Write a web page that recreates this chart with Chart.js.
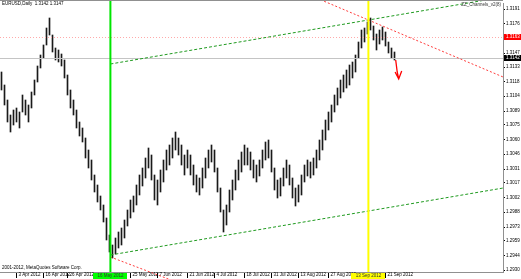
<!DOCTYPE html>
<html>
<head>
<meta charset="utf-8">
<script src="https://cdn.jsdelivr.net/npm/chart.js@4/dist/chart.umd.min.js"></script>
<style>
html, body { margin: 0; padding: 0; background: #fff; }
#wrap { width: 521px; height: 279px; }
</style>
</head>
<body>
<div id="wrap"><canvas id="priceChart" width="521" height="279"></canvas></div>
<script>
// daily bars, high / low
const highs = [
    1.3128, 1.3115, 1.3100, 1.3085, 1.3090, 1.3092, 1.3088, 1.3105, 1.3100, 1.3095,
    1.3108, 1.3120, 1.3134, 1.3145, 1.3155, 1.3172, 1.3182, 1.3165, 1.3152, 1.3150,
    1.3146, 1.3140, 1.3125, 1.3110, 1.3100, 1.3090, 1.3078, 1.3072, 1.3062, 1.3050,
    1.3040, 1.3025, 1.3015, 1.3004, 1.2995, 1.2982, 1.2965, 1.2955, 1.2962, 1.2968,
    1.2972, 1.2980, 1.2990, 1.3000, 1.3004, 1.3015, 1.3025, 1.3032, 1.3042, 1.3052,
    1.3045, 1.3025, 1.3020, 1.3030, 1.3040, 1.3050, 1.3055, 1.3062, 1.3068, 1.3062,
    1.3055, 1.3045, 1.3050, 1.3045, 1.3035, 1.3025, 1.3022, 1.3032, 1.3042, 1.3050,
    1.3055, 1.3050, 1.3032, 1.3012, 1.2990, 1.2995, 1.3010, 1.3020, 1.3030, 1.3040,
    1.3048, 1.3055, 1.3052, 1.3048, 1.3040, 1.3035, 1.3040, 1.3050, 1.3058, 1.3060,
    1.3050, 1.3032, 1.3020, 1.3022, 1.3032, 1.3040, 1.3035, 1.3022, 1.3012, 1.3015,
    1.3025, 1.3035, 1.3040, 1.3038, 1.3042, 1.3050, 1.3060, 1.3070, 1.3080, 1.3088,
    1.3095, 1.3105, 1.3112, 1.3120, 1.3125, 1.3130, 1.3135, 1.3138, 1.3145, 1.3158,
    1.3170, 1.3172, 1.3178, 1.3182, 1.3174, 1.3166, 1.3170, 1.3173, 1.3168, 1.3158,
    1.3152, 1.3148
];
const lows = [
    1.3110, 1.3095, 1.3078, 1.3068, 1.3075, 1.3078, 1.3072, 1.3088, 1.3085, 1.3078,
    1.3092, 1.3105, 1.3118, 1.3132, 1.3142, 1.3155, 1.3165, 1.3148, 1.3140, 1.3138,
    1.3134, 1.3122, 1.3105, 1.3092, 1.3085, 1.3072, 1.3064, 1.3058, 1.3042, 1.3032,
    1.3020, 1.3008, 1.2998, 1.2990, 1.2978, 1.2960, 1.2948, 1.2942, 1.2946, 1.2952,
    1.2955, 1.2962, 1.2974, 1.2982, 1.2988, 1.2995, 1.3005, 1.3014, 1.3022, 1.3032,
    1.3020, 1.3000, 1.2995, 1.3008, 1.3018, 1.3030, 1.3035, 1.3042, 1.3050, 1.3045,
    1.3035, 1.3025, 1.3032, 1.3025, 1.3015, 1.3008, 1.3005, 1.3012, 1.3022, 1.3032,
    1.3038, 1.3028, 1.3008, 1.2988, 1.2968, 1.2975, 1.2988, 1.3000, 1.3010, 1.3020,
    1.3028, 1.3035, 1.3035, 1.3030, 1.3022, 1.3018, 1.3024, 1.3032, 1.3040, 1.3042,
    1.3028, 1.3010, 1.3002, 1.3004, 1.3014, 1.3022, 1.3015, 1.3002, 1.2994, 1.2998,
    1.3005, 1.3018, 1.3024, 1.3022, 1.3025, 1.3032, 1.3040, 1.3050, 1.3060, 1.3070,
    1.3078, 1.3088, 1.3095, 1.3102, 1.3108, 1.3112, 1.3115, 1.3122, 1.3128, 1.3142,
    1.3152, 1.3158, 1.3166, 1.3170, 1.3160, 1.3150, 1.3156, 1.3160, 1.3154, 1.3147,
    1.3142, 1.3140
];

// bar places on screen (the right part is the empty shift area), 3 px per bar
const barSlots = 503 / 3;
const priceTicks = [
    1.2930, 1.2944, 1.2959, 1.2973, 1.2988, 1.3002, 1.3017, 1.3031, 1.3046, 1.3060,
    1.3075, 1.3089, 1.3104, 1.3118, 1.3133, 1.3147, 1.3162, 1.3176, 1.3191
];
const timeTickIdx = [5, 14, 22, 43, 52, 62, 71, 81, 90, 99, 109, 128];
const timeTickLabels = [
    '3 Apr 2012', '16 Apr 2012', '26 Apr 2012', '25 May 2012', '7 Jun 2012', '21 Jun 2012',
    '4 Jul 2012', '18 Jul 2012', '31 Jul 2012', '13 Aug 2012', '27 Aug 2012', '21 Sep 2012'
];

const bidPrice = 1.3142;
const askPrice = 1.3163;
const greenLine = { idx: 36.3, label: '16 May 2012' };
const yellowLine = { idx: 122.3, label: '13 Sep 2012' };
const channelTop = [[36.3, 1.3136], [122.3, 1.3180]];
const channelBottomStart = [36.3, 1.2945];
const redTrendTop = [[122.3, 1.3180], [167.2, 1.3123]];
const redTrendLow = [[36.3, 1.2943], [48.6, 1.2929]];
const arrowShaft = [[131.4, 1.3140], [131.9, 1.3128], [132.4, 1.3121]];
const arrowHead = [[131.2, 1.3128], [132.4, 1.3121], [133.4, 1.3129]];

const fontFamily = "'Liberation Sans', Arial, sans-serif";
const tinyFont = { size: 4.5, family: fontFamily };

const mtObjects = {
    id: 'mtObjects',
    afterDatasetsDraw(chart) {
        const ctx = chart.ctx;
        const area = chart.chartArea;
        const xs = chart.scales.x;
        const ys = chart.scales.y;
        const px = i => xs.getPixelForValue(i);
        const py = p => ys.getPixelForValue(p);

        ctx.save();
        ctx.beginPath();
        ctx.rect(0, 0, area.right, chart.height);
        ctx.clip();

        // bid line and ask line
        ctx.lineWidth = 1;
        ctx.strokeStyle = '#c4c4c4';
        ctx.beginPath();
        ctx.moveTo(area.left, Math.round(py(bidPrice)) + 0.5);
        ctx.lineTo(area.right, Math.round(py(bidPrice)) + 0.5);
        ctx.stroke();

        ctx.strokeStyle = '#ffaaaa';
        ctx.setLineDash([1, 2]);
        ctx.beginPath();
        ctx.moveTo(area.left, Math.round(py(askPrice)) + 0.5);
        ctx.lineTo(area.right, Math.round(py(askPrice)) + 0.5);
        ctx.stroke();

        // channel
        const slope = (channelTop[1][1] - channelTop[0][1]) / (channelTop[1][0] - channelTop[0][0]);
        const endIdx = barSlots - 0.5;
        ctx.strokeStyle = '#1f9a1f';
        ctx.setLineDash([3, 2]);
        ctx.beginPath();
        ctx.moveTo(px(channelTop[0][0]), py(channelTop[0][1]));
        ctx.lineTo(px(endIdx), py(channelTop[0][1] + slope * (endIdx - channelTop[0][0])));
        ctx.moveTo(px(channelBottomStart[0]), py(channelBottomStart[1]));
        ctx.lineTo(px(endIdx), py(channelBottomStart[1] + slope * (endIdx - channelBottomStart[0])));
        ctx.stroke();

        // red trend lines, drawn as rays
        ctx.strokeStyle = '#ff3c3c';
        ctx.setLineDash([2, 2]);
        const rs = (redTrendTop[1][1] - redTrendTop[0][1]) / (redTrendTop[1][0] - redTrendTop[0][0]);
        ctx.beginPath();
        ctx.moveTo(px(-0.5), py(redTrendTop[0][1] + rs * (-0.5 - redTrendTop[0][0])));
        ctx.lineTo(px(endIdx), py(redTrendTop[0][1] + rs * (endIdx - redTrendTop[0][0])));
        const ls = (redTrendLow[1][1] - redTrendLow[0][1]) / (redTrendLow[1][0] - redTrendLow[0][0]);
        ctx.moveTo(px(redTrendLow[0][0]), py(redTrendLow[0][1]));
        ctx.lineTo(px(endIdx), py(redTrendLow[0][1] + ls * (endIdx - redTrendLow[0][0])));
        ctx.stroke();
        ctx.setLineDash([]);

        // vertical lines
        ctx.lineWidth = 2;
        ctx.strokeStyle = '#00e600';
        ctx.beginPath();
        ctx.moveTo(px(greenLine.idx), 1);
        ctx.lineTo(px(greenLine.idx), area.bottom);
        ctx.stroke();
        ctx.strokeStyle = '#ffff00';
        ctx.beginPath();
        ctx.moveTo(px(yellowLine.idx), 1);
        ctx.lineTo(px(yellowLine.idx), area.bottom);
        ctx.stroke();

        // arrow
        ctx.strokeStyle = '#ff0000';
        ctx.lineWidth = 1.3;
        ctx.beginPath();
        arrowShaft.forEach((p, k) => k ? ctx.lineTo(px(p[0]), py(p[1])) : ctx.moveTo(px(p[0]), py(p[1])));
        arrowHead.forEach((p, k) => k ? ctx.lineTo(px(p[0]), py(p[1])) : ctx.moveTo(px(p[0]), py(p[1])));
        ctx.stroke();
        ctx.restore();
    },
    afterDraw(chart) {
        const ctx = chart.ctx;
        const area = chart.chartArea;
        const xs = chart.scales.x;
        const ys = chart.scales.y;
        ctx.save();
        ctx.font = '4.5px ' + fontFamily;

        // frame line on top
        ctx.strokeStyle = '#909090';
        ctx.lineWidth = 1;
        ctx.beginPath();
        ctx.moveTo(0, 0.5);
        ctx.lineTo(area.right, 0.5);
        ctx.stroke();

        // texts in the chart window
        ctx.fillStyle = '#000';
        ctx.textBaseline = 'top';
        ctx.textAlign = 'left';
        ctx.fillText('EURUSD,Daily  1.3142 1.3147', 2, 2);
        ctx.fillText('2001-2012, MetaQuotes Software Corp.', 2, area.bottom - 6);
        ctx.textAlign = 'right';
        ctx.fillStyle = '#333';
        ctx.fillText('ZZ_Channels_v2(8)', area.right - 2, 3);

        // price boxes on the price scale
        [[askPrice, '#ff0000'], [bidPrice, '#000000']].forEach(([p, c]) => {
            const y = ys.getPixelForValue(p);
            ctx.fillStyle = c;
            ctx.fillRect(area.right + 1, Math.round(y) - 3, chart.width - area.right - 1, 6);
            ctx.fillStyle = '#fff';
            ctx.textAlign = 'left';
            ctx.textBaseline = 'middle';
            ctx.fillText(p.toFixed(4), area.right + 3, y);
        });

        // vertical line date boxes on the time scale
        [[greenLine, '#00ff00'], [yellowLine, '#ffff00']].forEach(([ln, box]) => {
            const x = xs.getPixelForValue(ln.idx);
            ctx.fillStyle = box;
            ctx.fillRect(Math.round(x) - 17, area.bottom + 1, 34, chart.height - area.bottom - 1);
            ctx.fillStyle = '#333';
            ctx.textAlign = 'center';
            ctx.textBaseline = 'middle';
            ctx.fillText(ln.label, x, area.bottom + 4);
        });
        ctx.restore();
    }
};

const ctx = document.getElementById('priceChart').getContext('2d');
new Chart(ctx, {
    type: 'bar',
    data: {
        datasets: [{
            data: highs.map((h, i) => ({ x: i, y: [lows[i], h] })),
            backgroundColor: '#1a1a1a',
            borderWidth: 0,
            barThickness: 1
        }]
    },
    options: {
        responsive: false,
        animation: false,
        devicePixelRatio: 1,
        layout: { autoPadding: false, padding: { top: 3, left: 0, right: 0, bottom: 0 } },
        plugins: { legend: { display: false }, tooltip: { enabled: false } },
        scales: {
            x: {
                type: 'linear',
                offset: false,
                min: -0.5,
                max: barSlots - 0.5,
                afterBuildTicks: s => { s.ticks = timeTickIdx.map(v => ({ value: v })); },
                afterFit: s => {
                    s.height = 7;
                    s.paddingLeft = 0;
                    s.paddingRight = 0;
                },
                grid: { drawOnChartArea: false, drawTicks: true, tickLength: 6, color: '#000', offset: false },
                border: { display: true, color: '#909090' },
                ticks: {
                    autoSkip: false,
                    maxRotation: 0,
                    align: 'start',
                    labelOffset: 2,
                    padding: -6,
                    font: tinyFont,
                    color: '#000',
                    callback: (v, i) => timeTickLabels[i]
                }
            },
            y: {
                type: 'linear',
                position: 'right',
                min: 1.2928,
                max: 1.3197,
                afterBuildTicks: s => { s.ticks = priceTicks.map(v => ({ value: v })); },
                afterFit: s => {
                    s.width = 18;
                    s.paddingTop = 0;
                    s.paddingBottom = 0;
                },
                grid: { drawOnChartArea: false, tickLength: 2, color: '#000' },
                border: { display: true, color: '#909090' },
                ticks: {
                    padding: 1,
                    font: tinyFont,
                    color: '#000',
                    callback: v => v.toFixed(4)
                }
            }
        }
    },
    plugins: [mtObjects]
});
</script>
</body>
</html>
